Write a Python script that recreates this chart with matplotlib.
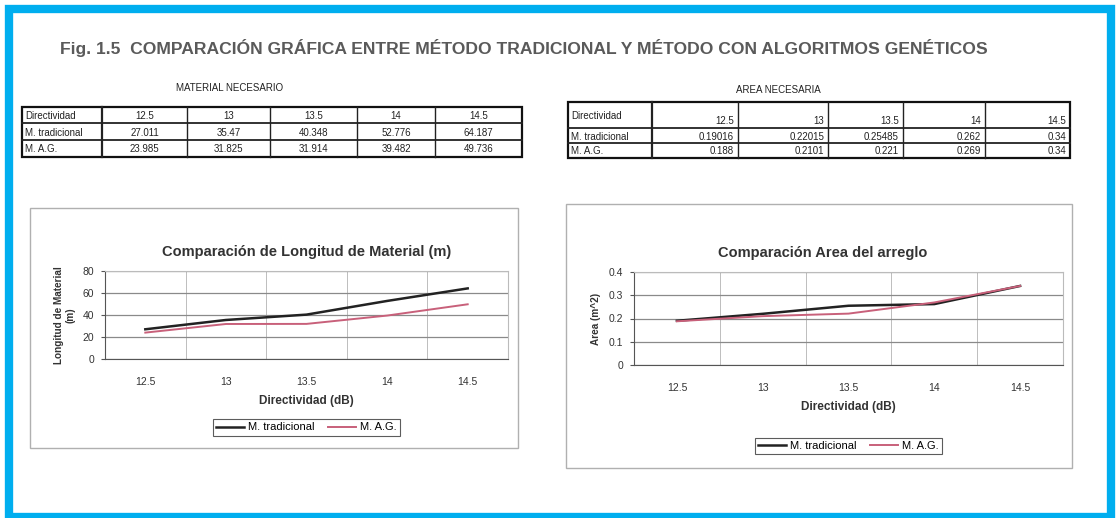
import matplotlib
matplotlib.use("Agg")
import matplotlib.pyplot as plt
from matplotlib.patches import Rectangle

plt.rcParams['font.family'] = ['Liberation Sans', 'DejaVu Sans']

directividad = ["12.5", "13", "13.5", "14", "14.5"]
mat_trad = [27.011, 35.47, 40.348, 52.776, 64.187]
mat_mag = [23.985, 31.825, 31.914, 39.482, 49.736]
mat_trad_txt = ["27.011", "35.47", "40.348", "52.776", "64.187"]
mat_mag_txt = ["23.985", "31.825", "31.914", "39.482", "49.736"]
area_trad = [0.19016, 0.22015, 0.25485, 0.262, 0.34]
area_mag = [0.188, 0.2101, 0.221, 0.269, 0.34]
area_trad_txt = ["0.19016", "0.22015", "0.25485", "0.262", "0.34"]
area_mag_txt = ["0.188", "0.2101", "0.221", "0.269", "0.34"]
row_names = ["Directividad", "M. tradicional", "M. A.G."]

W, H = 1117, 518
fig = plt.figure(figsize=(W / 100, H / 100), dpi=100)
fig.patch.set_facecolor('white')

# overlay axes in pixel coordinates for border, heading, tables, frames
bg = fig.add_axes([0, 0, 1, 1])
bg.set_xlim(0, W)
bg.set_ylim(H, 0)
bg.axis('off')
bg.add_patch(Rectangle((9, 9), 1102, 508, fill=False, ec='#00aeef', lw=6))

bg.text(60, 48, "Fig. 1.5  COMPARACIÓN GRÁFICA ENTRE MÉTODO TRADICIONAL Y MÉTODO CON ALGORITMOS GENÉTICOS",
        fontsize=12.6, fontweight='bold', color='#5a5a5a', va='center', ha='left')


def draw_table(title, tx, ty, cols, rows, values, align):
    bg.text(tx, ty, title, fontsize=7, color='#222222', ha='center', va='center')
    x0, x1 = cols[0], cols[-1]
    y0, y1 = rows[0], rows[-1]
    bg.add_patch(Rectangle((x0, y0), x1 - x0, y1 - y0, fill=False, ec='#111111', lw=1.6))
    for x in cols[1:-1]:
        bg.plot([x, x], [y0, y1], color='#222222', lw=1.0 if x != cols[1] else 1.6)
    for y in rows[1:-1]:
        bg.plot([x0, x1], [y, y], color='#222222', lw=1.3)
    for r, line in enumerate(values):
        ya = (rows[r] + rows[r + 1]) / 2 + 1
        bg.text(x0 + 3, ya, row_names[r], fontsize=7, color='#222222', va='center', ha='left')
        for c, v in enumerate(line):
            if align == 'center':
                xa = (cols[c + 1] + cols[c + 2]) / 2
            else:
                xa = cols[c + 2] - 4
            yv = ya + (5 if (align == 'right' and r == 0) else 0)
            bg.text(xa, yv, v, fontsize=7, color='#222222', va='center', ha=align)


draw_table("MATERIAL NECESARIO", 230, 88,
           [22, 102, 187, 270, 357, 435, 522], [107, 123, 140, 157],
           [directividad, mat_trad_txt, mat_mag_txt], 'center')
draw_table("AREA NECESARIA", 778, 90,
           [568, 652, 738, 828, 903, 985, 1070], [102, 128, 143, 158],
           [directividad, area_trad_txt, area_mag_txt], 'right')

# chart area frames
bg.add_patch(Rectangle((30, 208), 488, 240, fill=False, ec='#b0b0b0', lw=1.0))
bg.add_patch(Rectangle((566, 204), 506, 264, fill=False, ec='#b0b0b0', lw=1.0))


def px_axes(x0, x1, y0, y1):
    return fig.add_axes([x0 / W, 1 - y1 / H, (x1 - x0) / W, (y1 - y0) / H])


def style(ax, yticks, ylabels, ylabel, title, legend_loc):
    x = range(len(directividad))
    ax.set_xlim(-0.5, len(directividad) - 0.5)
    ax.set_xticks(list(x))
    ax.set_xticklabels(directividad, fontsize=7.5, color='#333333')
    ax.set_xticks([i + 0.5 for i in range(len(directividad) - 1)], minor=True)
    ax.tick_params(axis='x', which='both', length=0, pad=13)
    ax.set_ylim(yticks[0], yticks[-1])
    ax.set_yticks(yticks)
    ax.set_yticklabels(ylabels, fontsize=7.5, color='#333333')
    ax.tick_params(axis='y', length=3, color='#555555', pad=5)
    ax.grid(axis='y', color='#8a8a8a', lw=0.9)
    ax.grid(axis='x', which='minor', color='#bdbdbd', lw=0.7)
    for s in ax.spines.values():
        s.set_color('#bbbbbb')
        s.set_linewidth(0.8)
    ax.spines['left'].set_color('#555555')
    ax.spines['bottom'].set_color('#555555')
    ax.set_xlabel("Directividad (dB)", fontsize=8.5, fontweight='bold', color='#333333', labelpad=6)
    ax.set_ylabel(ylabel, fontsize=7.2, fontweight='bold', color='#333333', labelpad=5)
    ax.set_title(title, fontsize=10.5, fontweight='bold', color='#333333', pad=11)
    leg = ax.legend(loc='upper center', bbox_to_anchor=legend_loc, ncol=2, fontsize=8,
                    frameon=True, fancybox=False, handlelength=2.5, columnspacing=1.2,
                    borderpad=0.3, handletextpad=0.4)
    leg.get_frame().set_edgecolor('#333333')
    leg.get_frame().set_linewidth(0.8)


ax1 = px_axes(105, 508, 271, 359)
xi = range(len(directividad))
ax1.plot(xi, mat_trad, color='#222222', lw=1.8, label="M. tradicional")
ax1.plot(xi, mat_mag, color='#c8607a', lw=1.4, label="M. A.G.")
style(ax1, [0, 20, 40, 60, 80], ["0", "20", "40", "60", "80"],
      "Longitud de Material\n(m)", "Comparación de Longitud de Material (m)", (0.5, -0.62))

ax2 = px_axes(634, 1063, 272, 365)
ax2.plot(xi, area_trad, color='#222222', lw=1.8, label="M. tradicional")
ax2.plot(xi, area_mag, color='#c8607a', lw=1.4, label="M. A.G.")
style(ax2, [0, 0.1, 0.2, 0.3, 0.4], ["0", "0.1", "0.2", "0.3", "0.4"],
      "Area (m^2)", "Comparación Area del arreglo", (0.5, -0.72))
ax2.title.set_position((0.44, 1.0))

fig.savefig("out.png", dpi=100)
